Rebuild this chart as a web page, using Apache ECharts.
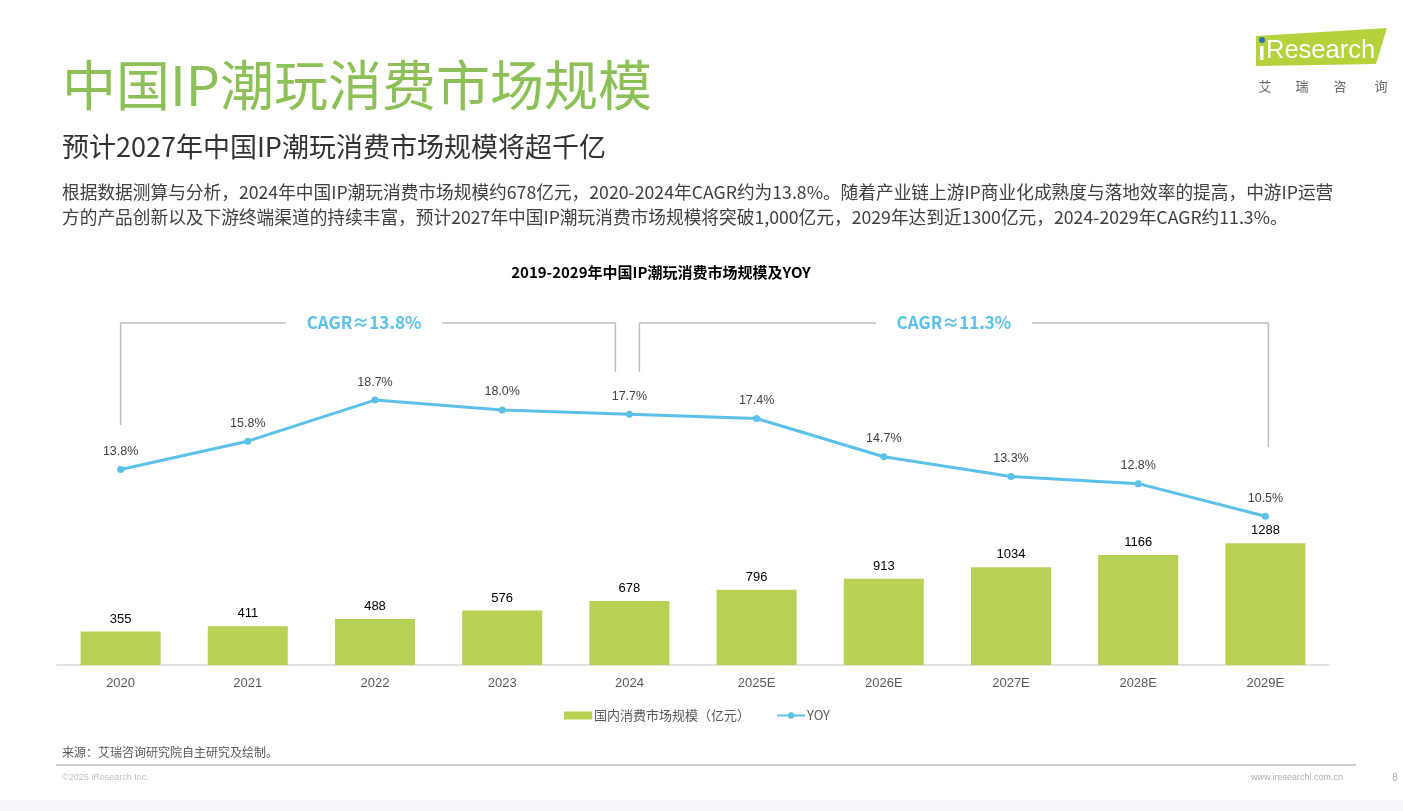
<!DOCTYPE html>
<html>
<head>
<meta charset="utf-8">
<script src="https://cdn.jsdelivr.net/npm/echarts@6/dist/echarts.min.js"></script>
<style>
  html, body { margin: 0; padding: 0; background: #fff; }
  #main { width: 1403px; height: 811px; }
</style>
</head>
<body>
<div id="main"></div>
<script>
// 数据
var years = ['2020', '2021', '2022', '2023', '2024', '2025E', '2026E', '2027E', '2028E', '2029E'];
var marketSize = [355, 411, 488, 576, 678, 796, 913, 1034, 1166, 1288];
var yoy = [13.8, 15.8, 18.7, 18.0, 17.7, 17.4, 14.7, 13.3, 12.8, 10.5];
var cagrLabels = ['CAGR≈13.8%', 'CAGR≈11.3%'];

var cjk = '"Noto Sans CJK SC", "Microsoft YaHei", sans-serif';
var num = '"Liberation Sans", Arial, sans-serif';
var green = '#B7D153';
var blue = '#5BC0EA';

var myChart = echarts.init(document.getElementById('main'));

var option = {
    backgroundColor: '#fff',
    animation: false,
    title: {
        text: '2019-2029年中国IP潮玩消费市场规模及YOY',
        left: 656,
        top: 260,
        textAlign: 'center',
        textStyle: { fontFamily: cjk, fontSize: 15, fontWeight: 'bold', color: '#000' }
    },
    legend: {
        left: 559,
        top: 704,
        itemWidth: 28,
        itemHeight: 8,
        itemGap: 26,
        textStyle: { fontFamily: cjk, fontSize: 13, color: '#595959', padding: [0, 0, 0, -3] },
        data: [
            { name: '国内消费市场规模（亿元）', icon: 'rect' },
            { name: 'YOY' }
        ]
    },
    grid: { left: 57, right: 74, top: 325, bottom: 146 },
    xAxis: {
        type: 'category',
        data: years,
        axisLine: { lineStyle: { color: '#D9D9D9', width: 1.5 } },
        axisTick: { show: false },
        axisLabel: { color: '#595959', fontFamily: num, fontSize: 13, margin: 12 }
    },
    yAxis: [
        { type: 'value', min: 0, max: 3600, show: false, splitLine: { show: false } },
        { type: 'value', min: 0, max: 24, show: false, splitLine: { show: false } }
    ],
    series: [
        {
            name: '国内消费市场规模（亿元）',
            type: 'bar',
            data: marketSize,
            barWidth: 80,
            itemStyle: { color: green },
            label: { show: true, position: 'top', distance: 6, color: '#000', fontFamily: num, fontSize: 13 }
        },
        {
            name: 'YOY',
            type: 'line',
            yAxisIndex: 1,
            data: yoy,
            symbol: 'circle',
            symbolSize: 7,
            lineStyle: { color: blue, width: 3 },
            itemStyle: { color: blue },
            label: {
                show: true, position: 'top', distance: 8, color: '#404040', fontFamily: num, fontSize: 12.5,
                formatter: function (p) { return p.value.toFixed(1) + '%'; }
            }
        }
    ]
};
myChart.setOption(option);

// 括号位置按类目轴换算
function px(i) { return myChart.convertToPixel({ xAxisIndex: 0 }, years[i]); }
var x0 = px(0), x4 = px(4), x9 = px(9);
var by = 323;
var lineStyle = { stroke: '#BFBFBF', lineWidth: 1.5 };
function seg(a, b, c, d) {
    return { type: 'line', shape: { x1: a, y1: b, x2: c, y2: d }, style: lineStyle, silent: true };
}
function txt(x, y, s, style) {
    return { type: 'text', x: x, y: y, style: Object.assign({ text: s, verticalAlign: 'middle' }, style), silent: true };
}
var c1 = (x0 + x4 - 14) / 2 - 4;
var c2 = (x4 + 10 + x9 + 3) / 2;
var cagrStyle = { fill: blue, font: 'bold 17px ' + cjk, align: 'center' };

var graphics = [
    // 标题
    txt(62, 85, '中国IP潮玩消费市场规模', { fill: '#8DC157', font: '54px ' + cjk }),
    txt(62, 147, '预计2027年中国IP潮玩消费市场规模将超千亿', { fill: '#333', font: '27px ' + cjk }),
    txt(62, 192, '根据数据测算与分析，2024年中国IP潮玩消费市场规模约678亿元，2020-2024年CAGR约为13.8%。随着产业链上游IP商业化成熟度与落地效率的提高，中游IP运营', { fill: '#404040', font: '17.7px ' + cjk }),
    txt(62, 217, '方的产品创新以及下游终端渠道的持续丰富，预计2027年中国IP潮玩消费市场规模将突破1,000亿元，2029年达到近1300亿元，2024-2029年CAGR约11.3%。', { fill: '#404040', font: '17.7px ' + cjk }),
    // CAGR 括号
    seg(x0, by, x0, 425), seg(x0, by, c1 - 78, by), seg(c1 + 78, by, x4 - 14, by), seg(x4 - 14, by, x4 - 14, 372),
    txt(c1, by, cagrLabels[0], cagrStyle),
    seg(x4 + 10, by, x4 + 10, 372), seg(x4 + 10, by, c2 - 78, by), seg(c2 + 78, by, x9 + 3, by), seg(x9 + 3, by, x9 + 3, 447),
    txt(c2, by, cagrLabels[1], cagrStyle),
    // logo
    { type: 'polygon', shape: { points: [[1256, 36], [1387, 28], [1376, 64], [1256, 66]] }, style: { fill: '#B4D23C' }, silent: true },
    { type: 'circle', shape: { cx: 1262, cy: 40, r: 3 }, style: { fill: '#2F6FB7' }, silent: true },
    { type: 'rect', shape: { x: 1260, y: 46, width: 3.5, height: 14 }, style: { fill: '#fff' }, silent: true },
    txt(1266, 51, 'Research', { fill: '#fff', font: '25.5px ' + num }),
    txt(1265, 86, '艾', { fill: '#666', font: '13px ' + cjk, align: 'center' }),
    txt(1302, 86, '瑞', { fill: '#666', font: '13px ' + cjk, align: 'center' }),
    txt(1340, 86, '咨', { fill: '#666', font: '13px ' + cjk, align: 'center' }),
    txt(1381, 86, '询', { fill: '#666', font: '13px ' + cjk, align: 'center' }),
    // 页脚
    txt(62, 752, '来源：艾瑞咨询研究院自主研究及绘制。', { fill: '#595959', font: '12px ' + cjk }),
    seg(56, 765, 1356, 765),
    txt(62, 778, '©2025 iResearch Inc.', { fill: '#BFBFBF', font: '9px ' + num }),
    txt(1343, 778, 'www.iresearchl.com.cn', { fill: '#AFAFAF', font: '9px ' + num, align: 'right' }),
    txt(1395, 778, '8', { fill: '#AFAFAF', font: '10px ' + num, align: 'center' }),
    { type: 'rect', shape: { x: 0, y: 800, width: 1403, height: 11 }, style: { fill: '#F4F6F9' }, silent: true }
];
myChart.setOption({ graphic: graphics });
</script>
</body>
</html>
